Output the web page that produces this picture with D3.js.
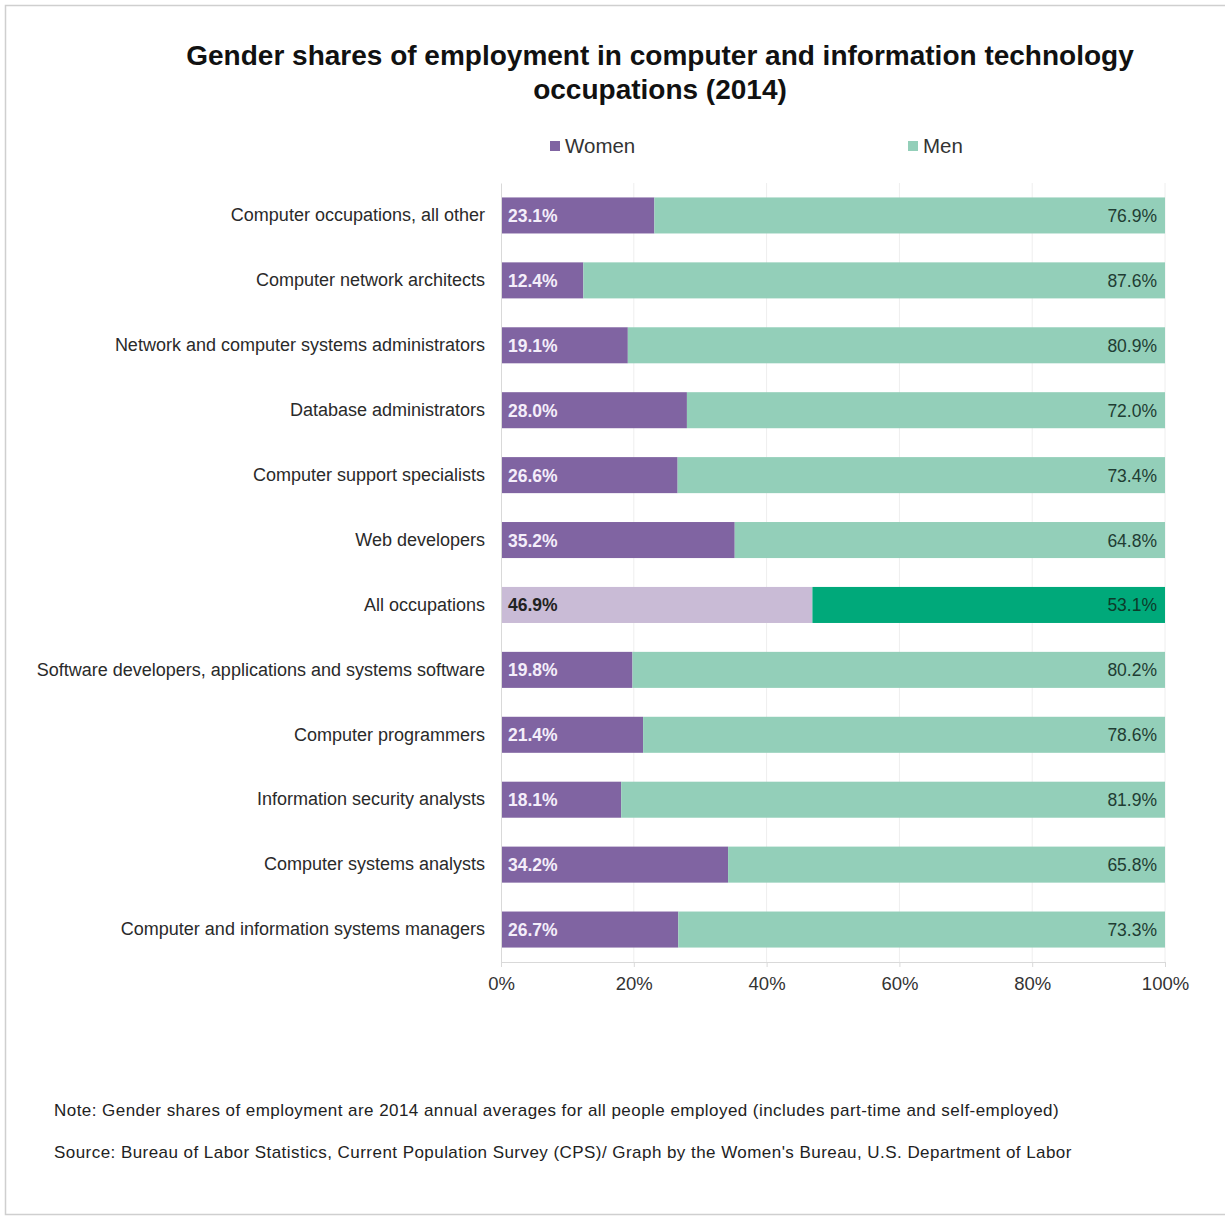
<!DOCTYPE html>
<html>
<head>
<meta charset="utf-8">
<script src="https://cdn.jsdelivr.net/npm/d3@7"></script>
<style>
  html, body { margin: 0; padding: 0; background: #fff; }
  svg { display: block; }
  text { font-family: "Liberation Sans", Arial, sans-serif; }
</style>
</head>
<body>
<svg id="chart" width="1225" height="1218"></svg>
<script>
// Occupations, listed top to bottom
const occupations = [
  "Computer occupations, all other",
  "Computer network architects",
  "Network and computer systems administrators",
  "Database administrators",
  "Computer support specialists",
  "Web developers",
  "All occupations",
  "Software developers, applications and systems software",
  "Computer programmers",
  "Information security analysts",
  "Computer systems analysts",
  "Computer and information systems managers"
];
// Shares of employment (%)
const womenShare = [23.1, 12.4, 19.1, 28.0, 26.6, 35.2, 46.9, 19.8, 21.4, 18.1, 34.2, 26.7];
const menShare   = [76.9, 87.6, 80.9, 72.0, 73.4, 64.8, 53.1, 80.2, 78.6, 81.9, 65.8, 73.3];
const xTicks = [0, 20, 40, 60, 80, 100];
const seriesNames = ["Women", "Men"];
const highlightRow = "All occupations";

const rows = occupations.map((name, i) => ({ name, Women: womenShare[i], Men: menShare[i] }));

const svg = d3.select("#chart");
const W = 1225, H = 1218;

// outer frame
svg.append("rect")
  .attr("x", 5.5).attr("y", 5.5)
  .attr("width", W + 10).attr("height", 1209)
  .attr("fill", "#fff").attr("stroke", "#cfcfcf").attr("stroke-width", 1.5);

const margin = { left: 501, right: 60, top: 183, bottom: 256 };
const x = d3.scaleLinear().domain([0, 100]).range([margin.left, 1165]);
const y = d3.scaleBand().domain(occupations).range([margin.top, H - margin.bottom]).paddingInner(0.445).paddingOuter(0.2225);

const colors = {
  Women: "#8064a2",
  Men: "#93cfb9",
  WomenHi: "#c9bbd6",
  MenHi: "#00a97a"
};

// title
svg.append("text")
  .attr("x", 660).attr("y", 65)
  .attr("text-anchor", "middle")
  .attr("font-size", 28).attr("font-weight", "bold").attr("fill", "#111")
  .text("Gender shares of employment in computer and information technology");
svg.append("text")
  .attr("x", 660).attr("y", 99)
  .attr("text-anchor", "middle")
  .attr("font-size", 28).attr("font-weight", "bold").attr("fill", "#111")
  .text("occupations (2014)");

// legend
const legendPos = [{ x: 550 }, { x: 908 }];
seriesNames.forEach((s, i) => {
  const g = svg.append("g").attr("transform", `translate(${legendPos[i].x},146)`);
  g.append("rect").attr("x", 0).attr("y", -5).attr("width", 10).attr("height", 10).attr("fill", colors[s]);
  g.append("text").attr("x", 15).attr("y", 7).attr("font-size", 20.5).attr("fill", "#333").text(s);
});

// gridlines
svg.append("g")
  .selectAll("line")
  .data(xTicks.slice(1))
  .join("line")
  .attr("x1", d => x(d)).attr("x2", d => x(d))
  .attr("y1", margin.top).attr("y2", H - margin.bottom)
  .attr("stroke", "#eeeeee").attr("stroke-width", 1);

// stacked bars
const stack = d3.stack().keys(seriesNames)(rows);
const barG = svg.append("g");
stack.forEach(layer => {
  barG.selectAll(null)
    .data(layer)
    .join("rect")
    .attr("x", d => x(d[0]))
    .attr("width", d => x(d[1]) - x(d[0]))
    .attr("y", d => y(d.data.name))
    .attr("height", y.bandwidth())
    .attr("fill", d => d.data.name === highlightRow ? colors[layer.key + "Hi"] : colors[layer.key]);
});

// value labels
const fmt = v => v.toFixed(1) + "%";
svg.append("g").selectAll("text")
  .data(rows)
  .join("text")
  .attr("x", x(0) + 7)
  .attr("y", d => y(d.name) + y.bandwidth() / 2 + 6.5)
  .attr("font-size", 17.5).attr("font-weight", "bold")
  .attr("fill", d => d.name === highlightRow ? "#222" : "#f4eefa")
  .text(d => fmt(d.Women));
svg.append("g").selectAll("text")
  .data(rows)
  .join("text")
  .attr("x", x(100) - 8)
  .attr("y", d => y(d.name) + y.bandwidth() / 2 + 6.5)
  .attr("text-anchor", "end")
  .attr("font-size", 17.5)
  .attr("fill", d => d.name === highlightRow ? "#0d3b2a" : "#1f3d33")
  .text(d => fmt(d.Men));

// category axis
const yAxis = svg.append("g")
  .attr("transform", `translate(${x(0)},0)`)
  .call(d3.axisLeft(y).tickSize(0).tickPadding(16));
yAxis.select(".domain").attr("stroke", "#d9d9d9");
yAxis.selectAll("text").attr("font-size", 18).attr("fill", "#2a2a2a")
  .attr("font-family", "'Liberation Sans', Arial, sans-serif");

// value axis
const xAxis = svg.append("g")
  .attr("transform", `translate(0,${H - margin.bottom})`)
  .call(d3.axisBottom(x).tickValues(xTicks).tickFormat(d => d + "%").tickSize(5).tickPadding(10));
xAxis.select(".domain").attr("stroke", "#d9d9d9");
xAxis.selectAll(".tick line").attr("stroke", "#d9d9d9");
xAxis.selectAll("text").attr("font-size", 18.5).attr("fill", "#333")
  .attr("font-family", "'Liberation Sans', Arial, sans-serif");

// notes
svg.append("text")
  .attr("x", 54).attr("y", 1116)
  .attr("font-size", 17).attr("letter-spacing", 0.45).attr("fill", "#222")
  .text("Note: Gender shares of employment are 2014 annual averages for all people employed (includes part-time and self-employed)");
svg.append("text")
  .attr("x", 54).attr("y", 1158)
  .attr("font-size", 17).attr("letter-spacing", 0.45).attr("fill", "#222")
  .text("Source: Bureau of Labor Statistics, Current Population Survey (CPS)/ Graph by the Women's Bureau, U.S. Department of Labor");
</script>
</body>
</html>
